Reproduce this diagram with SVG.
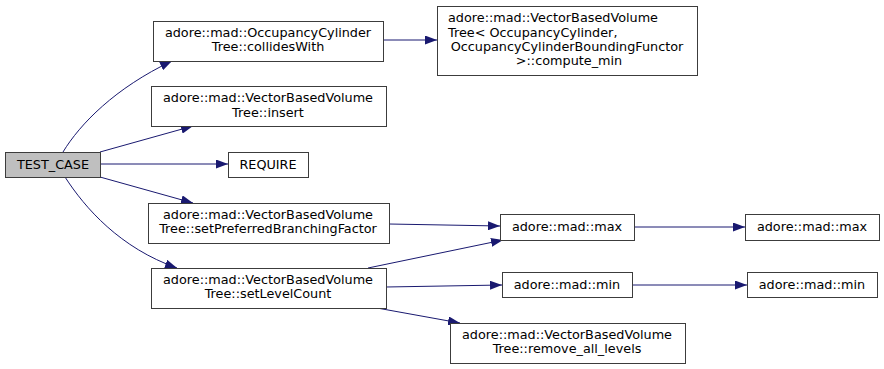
<svg xmlns="http://www.w3.org/2000/svg" width="884" height="369" viewBox="0 0 884 369">
  <style>
    .node rect { fill: #ffffff; stroke: #3c3c3c; stroke-width: 1; }
    .node.root rect { fill: #bfbfbf; }
    text { font-family: "DejaVu Sans", "Liberation Sans", sans-serif; font-size: 12.8px; fill: #000000; }
    .c { text-anchor: middle; }
    .edges path { fill: none; stroke: #191970; stroke-width: 1; }
  </style>
  <defs>
    <marker id="arrow" viewBox="0 0 12 9" refX="12" refY="4.5" markerWidth="12" markerHeight="9" markerUnits="userSpaceOnUse" orient="auto">
      <path d="M0,0 L12,4.5 L0,9 Z" fill="#191970"/>
    </marker>
  </defs>

  <rect width="884" height="369" fill="#ffffff"/>

  <!-- call edges -->
  <g class="edges">
    <path d="M63,152 C80,124 115,88 172,61" marker-end="url(#arrow)"/>
    <path d="M100,152 L193,126" marker-end="url(#arrow)"/>
    <path d="M100,164 L228,164" marker-end="url(#arrow)"/>
    <path d="M100,177 L193,203" marker-end="url(#arrow)"/>
    <path d="M65,177 C85,208 120,248 177,268" marker-end="url(#arrow)"/>
    <path d="M383,40 L437,40" marker-end="url(#arrow)"/>
    <path d="M389,224 L500,226" marker-end="url(#arrow)"/>
    <path d="M368,268 L503,240" marker-end="url(#arrow)"/>
    <path d="M386,287 L502,285" marker-end="url(#arrow)"/>
    <path d="M377,308 L460,323" marker-end="url(#arrow)"/>
    <path d="M634,227 L745,227" marker-end="url(#arrow)"/>
    <path d="M632,285 L747,285" marker-end="url(#arrow)"/>
  </g>

  <g id="test_case" class="node root">
    <rect x="5.5" y="152.5" width="95" height="25"/>
    <text class="c" x="53" y="169">TEST_CASE</text>
  </g>

  <g id="collides_with" class="node">
    <rect x="153.5" y="21.5" width="230" height="40"/>
    <text class="c" x="268" y="37">adore::mad::OccupancyCylinder</text>
    <text class="c" x="268" y="51">Tree::collidesWith</text>
  </g>

  <g id="compute_min" class="node">
    <rect x="437.5" y="6.5" width="260" height="69"/>
    <text x="448" y="22">adore::mad::VectorBasedVolume</text>
    <text x="448" y="37">Tree&lt; OccupancyCylinder,</text>
    <text class="c" x="567" y="51"> OccupancyCylinderBoundingFunctor</text>
    <text class="c" x="569" y="65">&gt;::compute_min</text>
  </g>

  <g id="insert" class="node">
    <rect x="151.5" y="86.5" width="235" height="40"/>
    <text class="c" x="268" y="102">adore::mad::VectorBasedVolume</text>
    <text class="c" x="268" y="117">Tree::insert</text>
  </g>

  <g id="require" class="node">
    <rect x="228.5" y="152.5" width="80" height="25"/>
    <text class="c" x="268" y="169">REQUIRE</text>
  </g>

  <g id="set_preferred_branching_factor" class="node">
    <rect x="148.5" y="203.5" width="241" height="40"/>
    <text class="c" x="268" y="219">adore::mad::VectorBasedVolume</text>
    <text class="c" x="268" y="233">Tree::setPreferredBranchingFactor</text>
  </g>

  <g id="set_level_count" class="node">
    <rect x="151.5" y="268.5" width="235" height="40"/>
    <text class="c" x="268" y="284">adore::mad::VectorBasedVolume</text>
    <text class="c" x="268" y="298">Tree::setLevelCount</text>
  </g>

  <g id="max_1" class="node">
    <rect x="500.5" y="214.5" width="134" height="26"/>
    <text class="c" x="567" y="231">adore::mad::max</text>
  </g>

  <g id="max_2" class="node">
    <rect x="745.5" y="214.5" width="134" height="26"/>
    <text class="c" x="812" y="231">adore::mad::max</text>
  </g>

  <g id="min_1" class="node">
    <rect x="502.5" y="272.5" width="130" height="25"/>
    <text class="c" x="567" y="289">adore::mad::min</text>
  </g>

  <g id="min_2" class="node">
    <rect x="747.5" y="272.5" width="130" height="25"/>
    <text class="c" x="812" y="289">adore::mad::min</text>
  </g>

  <g id="remove_all_levels" class="node">
    <rect x="450.5" y="323.5" width="235" height="40"/>
    <text class="c" x="567" y="339">adore::mad::VectorBasedVolume</text>
    <text class="c" x="567" y="353">Tree::remove_all_levels</text>
  </g>
</svg>
